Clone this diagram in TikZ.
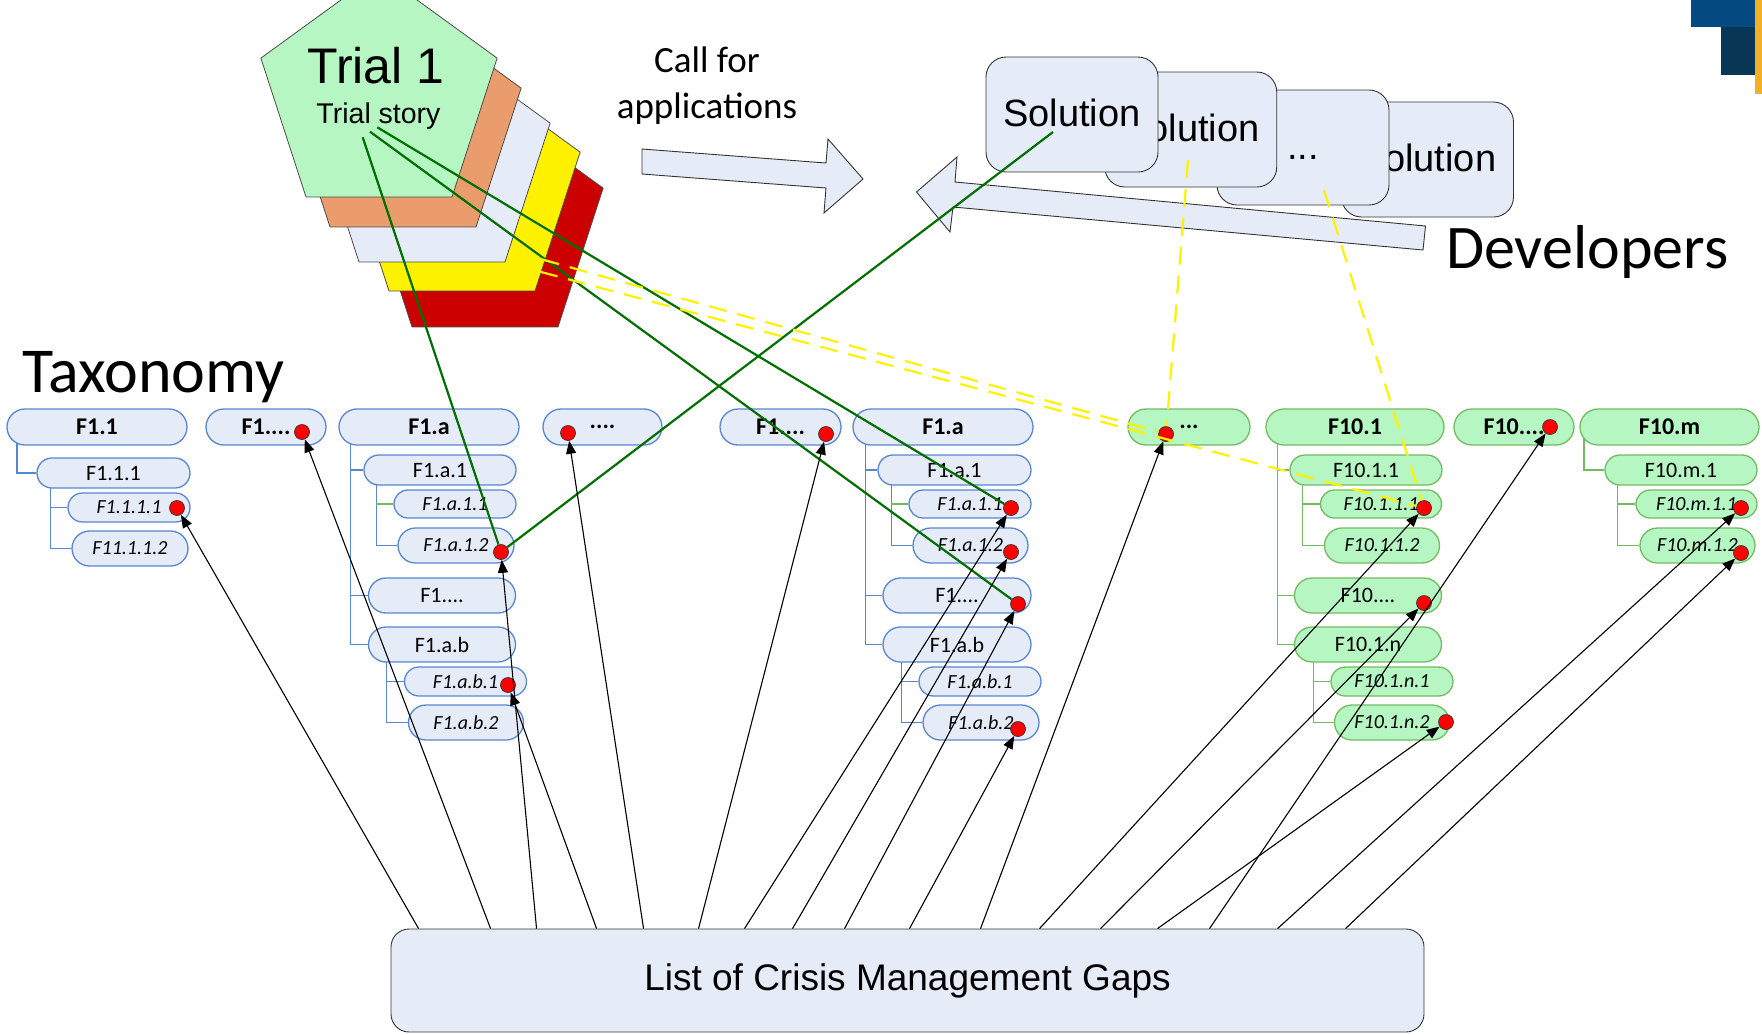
\documentclass[tikz,border=0pt]{standalone}
\usepackage{fontspec}
\setmainfont{Carlito}
\newfontfamily\arialfont{Liberation Sans}
\usetikzlibrary{shapes.misc,shapes.geometric,arrows.meta,backgrounds,positioning}

\definecolor{boxblue}{RGB}{230,236,247}
\definecolor{lineblue}{RGB}{88,134,207}
\definecolor{boxgreen}{RGB}{181,246,195}
\definecolor{linegreen}{RGB}{116,186,98}
\definecolor{pentorange}{RGB}{234,156,108}
\definecolor{pentred}{RGB}{204,0,0}
\definecolor{trialgreen}{RGB}{0,110,0}
\definecolor{logoblue}{RGB}{4,74,128}
\definecolor{logonavy}{RGB}{8,54,84}
\definecolor{logogold}{RGB}{240,176,40}

\tikzset{
	pent/.style={regular polygon, regular polygon sides=5, minimum size=248.4pt,
		inner sep=0pt, outer sep=0pt, draw=black!70, line width=0.8pt},
	soln/.style={rectangle, rounded corners=20pt, draw=black!80, line width=0.9pt,
		fill=boxblue, minimum width=172pt, minimum height=115pt,
		text height=23pt, text depth=0pt,
		font=\arialfont\fontsize{38}{44}\selectfont},
	bigarrow/.style={draw=black!80, line width=0.9pt, fill=boxblue},
	tax/.style={rounded rectangle, draw=lineblue, fill=boxblue, line width=1.3pt, inner sep=0pt},
	taxg/.style={tax, draw=linegreen, fill=boxgreen},
	lvone/.style={minimum width=180pt, minimum height=36pt, font=\fontsize{24}{28}\selectfont\bfseries},
	lvtwo/.style={minimum width=152pt, minimum height=30pt, font=\fontsize{22}{26}\selectfont},
	lvthree/.style={minimum width=122pt, minimum height=28pt, font=\fontsize{20}{24}\selectfont\itshape},
	tbl/.style={draw=lineblue, line width=1.1pt},
	tgr/.style={draw=linegreen, line width=1.1pt},
	dot/.style={circle, draw=black!80, line width=0.7pt, fill=red, minimum size=15pt, inner sep=0pt},
	trial/.style={draw=trialgreen, line width=2.2pt},
	pick/.style={draw=yellow, line width=2.2pt, dash pattern=on 18pt off 11pt},
	gap/.style={draw=black, line width=1.1pt, -{Triangle[length=13pt,width=10pt]}},
}

\begin{document}
\begin{tikzpicture}[x=1pt, y=-1pt]
	\useasboundingbox (0,0) rectangle (1762,1034);
	\clip (0,0) rectangle (1762,1034);

	% trial stack
	\node[pent, fill=pentred] (p5) at (485,226.5) {};
	\node[pent, fill=yellow] (p4) at (462,190.5) {};
	\node[pent, fill=boxblue] (p3) at (432,161.5) {};
	\node[pent, fill=pentorange] (p2) at (403,126.5) {};
	\node[pent, fill=boxgreen] (p1) at (379,96.5) {};
	\node[anchor=base, font=\arialfont\fontsize{50}{60}\selectfont] (t1) at (376,83) {Trial 1};
	\node[anchor=base, font=\arialfont\fontsize{28.5}{34}\selectfont] (ts) at (378.5,123) {Trial story};

	% call and answers
	\draw[bigarrow] (642,149) -- (826,163) -- (828,139) -- (863,179) -- (824,213)
		-- (826,188) -- (642,174) -- cycle;
	\node[font=\fontsize{37}{46}\selectfont, align=center] (call) at (707,86) {Call for\\applications};
	\draw[bigarrow] (1425.5,226) -- (955,182) -- (957,157) -- (916.5,192) -- (950,232)
		-- (953,207) -- (1423,250) -- cycle;

	\node[soln] (s4) at (1427.5,159.5) {Solution};
	\node[soln] (s3) at (1303,147.5) {...};
	\node[soln] (s2) at (1190.75,129.5) {Solution};
	\node[soln] (s1) at (1072,114.5) {Solution};
	\node[anchor=base west, inner sep=0pt, font=\fontsize{62}{70}\selectfont] (dev) at (1446,268) {Developers};
	\node[anchor=base west, inner sep=0pt, font=\fontsize{64}{70}\selectfont] (taxo) at (22,392) {Taxonomy};

	\node[rectangle, rounded corners=18pt, draw=black!80, line width=0.9pt, fill=boxblue,
		minimum width=1033pt, minimum height=103pt,
		font=\arialfont\fontsize{37}{44}\selectfont] (gaps) at (907.5,980.5) {List of Crisis Management Gaps};

	% taxonomy, blue part
	\node[tax, lvone] (a) at (97,427) {F1.1};
	\node[tax, lvtwo, minimum width=153pt] (a1) at (113.5,473) {F1.1.1};
	\node[tax, lvthree, minimum height=29pt] (a11) at (129,507.5) {F1.1.1.1};
	\node[tax, lvthree, minimum width=116pt, minimum height=35pt] (a12) at (130,548.5) {F11.1.1.2};

	\node[tax, lvone, minimum width=120pt] (b) at (266,427) {F1....};

	\node[tax, lvone] (c) at (429,427) {F1.a};
	\node[tax, lvtwo] (c1) at (440,470) {F1.a.1};
	\node[tax, lvthree] (c11) at (455,504) {F1.a.1.1};
	\node[tax, lvthree, minimum width=116pt, minimum height=35pt] (c12) at (456,545.5) {F1.a.1.2};
	\node[tax, lvtwo, minimum width=147pt, minimum height=35pt] (c2) at (442,595.5) {F1....};
	\node[tax, lvtwo, minimum width=147pt, minimum height=35pt] (c3) at (442,644.5) {F1.a.b};
	\node[tax, lvthree, minimum height=29pt] (c31) at (465.5,681.5) {F1.a.b.1};
	\node[tax, lvthree, minimum width=115pt, minimum height=35pt] (c32) at (466,722.5) {F1.a.b.2};

	\node[tax, lvone, minimum width=119pt] (e) at (602.5,427) {....};
	\node[tax, lvone, minimum width=121pt] (f) at (780.5,427) {F1....};

	\node[tax, lvone] (g) at (943,427) {F1.a};
	\node[tax, lvtwo, minimum width=153pt] (g1) at (954.5,470) {F1.a.1};
	\node[tax, lvthree] (g11) at (970,504) {F1.a.1.1};
	\node[tax, lvthree, minimum width=115pt, minimum height=35pt] (g12) at (970.5,545.5) {F1.a.1.2};
	\node[tax, lvtwo, minimum width=148pt, minimum height=35pt] (g2) at (957,595.5) {F1....};
	\node[tax, lvtwo, minimum width=148pt, minimum height=35pt] (g3) at (957,644.5) {F1.a.b};
	\node[tax, lvthree, minimum height=29pt] (g31) at (980,681.5) {F1.a.b.1};
	\node[tax, lvthree, minimum width=116pt, minimum height=35pt] (g32) at (981,722.5) {F1.a.b.2};

	% taxonomy, green part
	\node[taxg, lvone, minimum width=122pt] (h) at (1189,427) {...};

	\node[taxg, lvone, minimum width=178pt] (k) at (1355,427) {F10.1};
	\node[taxg, lvtwo] (k1) at (1366,470) {F10.1.1};
	\node[taxg, lvthree, minimum width=121pt] (k11) at (1381,504) {F10.1.1.1};
	\node[taxg, lvthree, minimum width=115pt, minimum height=35pt] (k12) at (1382,545.5) {F10.1.1.2};
	\node[taxg, lvtwo, minimum width=147pt, minimum height=35pt] (k2) at (1368,595.5) {F10....};
	\node[taxg, lvtwo, minimum width=147pt, minimum height=35pt] (k3) at (1368,644.5) {F10.1.n};
	\node[taxg, lvthree, minimum height=29pt] (k31) at (1392,681.5) {F10.1.n.1};
	\node[taxg, lvthree, minimum width=115pt, minimum height=35pt] (k32) at (1392,722.5) {F10.1.n.2};

	\node[taxg, lvone, minimum width=120pt] (l) at (1514,427) {F10....};

	\node[taxg, lvone, minimum width=179pt] (m) at (1669.5,427) {F10.m};
	\node[taxg, lvtwo] (m1) at (1681,470) {F10.m.1};
	\node[taxg, lvthree, minimum width=121pt] (m11) at (1696.5,504) {F10.m.1.1};
	\node[taxg, lvthree, minimum width=115pt, minimum height=35pt] (m12) at (1697.5,545.5) {F10.m.1.2};

	\begin{pgfonlayer}{background}
		\draw[tbl] ([xshift=10.6pt]a.west) |- (a1);
		\draw[tbl] ([xshift=14pt]a1.west) |- (a11) ([xshift=14pt]a1.west) |- (a12);
		\draw[tbl] ([xshift=12pt]c.west) |- (c1) ([xshift=12pt]c.west) |- (c2) ([xshift=12pt]c.west) |- (c3);
		\draw[tbl] ([xshift=13pt]c1.west) |- (c12);
		\draw[tgr] (c11.west) -- ++(-17,0);
		\draw[tbl] ([xshift=18.5pt]c3.west) |- (c31) ([xshift=18.5pt]c3.west) |- (c32);
		\draw[tbl] ([xshift=13pt]g.west) |- (g1) ([xshift=13pt]g.west) |- (g2) ([xshift=13pt]g.west) |- (g3);
		\draw[tbl] ([xshift=14pt]g1.west) |- (g12);
		\draw[tgr] (g11.west) -- ++(-17,0);
		\draw[tbl] ([xshift=19pt]g3.west) |- (g31) ([xshift=19pt]g3.west) |- (g32);
		\draw[tgr] ([xshift=12pt]k.west) |- (k1) ([xshift=12pt]k.west) |- (k2) ([xshift=12pt]k.west) |- (k3);
		\draw[tgr] ([xshift=13pt]k1.west) |- (k11) ([xshift=13pt]k1.west) |- (k12);
		\draw[tgr] ([xshift=19.5pt]k3.west) |- (k31) ([xshift=19.5pt]k3.west) |- (k32);
		\draw[tgr] ([xshift=4.6pt]m.west) |- (m1);
		\draw[tgr] ([xshift=13.5pt]m1.west) |- (m11) ([xshift=13.5pt]m1.west) |- (m12);
	\end{pgfonlayer}

	% marked gaps
	\node[dot] (d1) at (177,508) {};
	\node[dot] (d2) at (302,432) {};
	\node[dot] (d3) at (501,552) {};
	\node[dot] (d4) at (508,685) {};
	\node[dot] (d5) at (568,433) {};
	\node[dot] (d6) at (826,434) {};
	\node[dot] (d7) at (1011,508) {};
	\node[dot] (d8) at (1011,552) {};
	\node[dot] (d9) at (1018,604) {};
	\node[dot] (d10) at (1018,729) {};
	\node[dot] (d11) at (1166,434) {};
	\node[dot] (d12) at (1424,508) {};
	\node[dot] (d13) at (1424,603) {};
	\node[dot] (d14) at (1446,722) {};
	\node[dot] (d15) at (1550,427) {};
	\node[dot] (d16) at (1741,508) {};
	\node[dot] (d17) at (1741,553) {};

	% trial story and solutions to gaps
	\coordinate (ga) at (362.7,137.3);
	\coordinate (gb) at (370,131.7);
	\coordinate (gc) at (377.3,127.3);
	\coordinate (sa) at (1053,132);
	\draw[trial] (ga) -- (d3);
	\draw[trial] (gb) -- (d9);
	\draw[trial] (gc) -- (d7);
	\draw[trial] (sa) -- (d3);

	\coordinate (ya) at (541.7,259.3);
	\coordinate (yb) at (540,271.7);
	\coordinate (yc) at (1188,160);
	\coordinate (yd) at (1324,190);
	\draw[pick] (ya) -- (d11);
	\draw[pick] (yb) -- (d12);
	\draw[pick] (yc) -- (d11);
	\draw[pick] (yd) -- (d12);

	% gap list
	\draw[gap] ([xshift=28pt]gaps.north west) -- (d1);
	\draw[gap] ([xshift=100pt]gaps.north west) -- (d2);
	\draw[gap] ([xshift=146pt]gaps.north west) -- (d3);
	\draw[gap] ([xshift=206pt]gaps.north west) -- (d4);
	\draw[gap] ([xshift=253pt]gaps.north west) -- (d5);
	\draw[gap] ([xshift=308pt]gaps.north west) -- (d6);
	\draw[gap] ([xshift=354pt]gaps.north west) -- (d7);
	\draw[gap] ([xshift=402pt]gaps.north west) -- (d8);
	\draw[gap] ([xshift=454pt]gaps.north west) -- (d9);
	\draw[gap] ([xshift=519pt]gaps.north west) -- (d10);
	\draw[gap] ([xshift=590pt]gaps.north west) -- (d11);
	\draw[gap] ([xshift=649pt]gaps.north west) -- (d12);
	\draw[gap] ([xshift=710pt]gaps.north west) -- (d13);
	\draw[gap] ([xshift=767pt]gaps.north west) -- (d14);
	\draw[gap] ([xshift=819pt]gaps.north west) -- (d15);
	\draw[gap] ([xshift=887pt]gaps.north west) -- (d16);
	\draw[gap] ([xshift=955pt]gaps.north west) -- (d17);

	% logo corner
	\fill[logoblue] (1691,0) rectangle (1755,27);
	\fill[logonavy] (1721,27) rectangle (1755,75);
	\fill[logogold] (1755,0) rectangle (1762,94);
\end{tikzpicture}
\end{document}
